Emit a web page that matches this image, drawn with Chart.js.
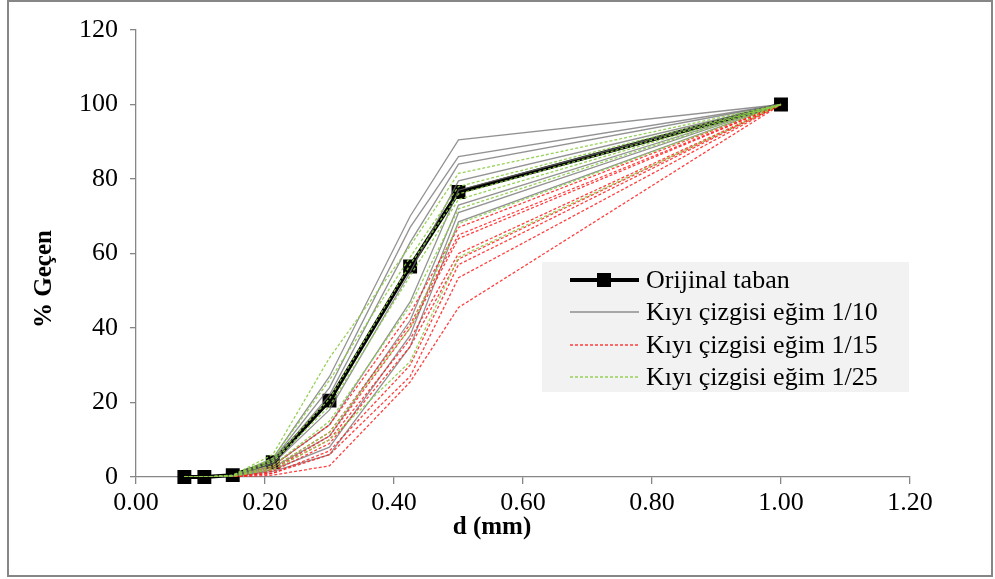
<!DOCTYPE html>
<html>
<head>
<meta charset="utf-8">
<script src="https://cdn.jsdelivr.net/npm/chart.js@4.4.0/dist/chart.umd.min.js"></script>
<style>
html,body{margin:0;padding:0;background:#fff;}
#wrap{width:995px;height:579px;position:relative;}
</style>
</head>
<body>
<div id="wrap"><canvas id="c" width="995" height="579"></canvas></div>
<script>
// Sieve sizes (mm)
const sizes = [0.075, 0.106, 0.15, 0.212, 0.3, 0.425, 0.5, 1.0];

// Original bed
const original = [0, 0, 0.5, 4, 20.5, 56.5, 76.5, 100];

// Shoreline slope 1/10 (grey)
const slope10 = [
  [0, 0, 0.3, 5.0, 27, 70, 90.5, 100],
  [0, 0, 0.3, 4.5, 24, 67, 86, 100],
  [0, 0, 0.2, 4.0, 22, 63, 84, 100],
  [0, 0, 0.2, 3.5, 18, 55, 79.5, 100],
  [0, 0, 0.2, 3.0, 14, 47, 77, 100],
  [0, 0, 0.1, 2.5, 11, 42, 73, 100],
  [0, 0, 0.1, 2.0, 8, 38, 71, 100],
  [0, 0, 0.1, 1.5, 6, 35, 68.5, 100]
];

// Shoreline slope 1/15 (red)
const slope15 = [
  [0, 0, 0.2, 3.0, 14, 44, 67, 100],
  [0, 0, 0.2, 2.5, 12, 41, 65, 100],
  [0, 0, 0.1, 2.0, 11, 40, 64, 100],
  [0, 0, 0.1, 2.0, 10, 37, 60, 100],
  [0, 0, 0.1, 1.5, 9, 35, 58.5, 100],
  [0, 0, 0.1, 1.0, 7, 30, 57, 100],
  [0, 0, 0.1, 1.0, 6, 27, 53.5, 100],
  [0, 0, 0.0, 0.5, 3, 25.5, 45.5, 100]
];

// Shoreline slope 1/25 (green)
const slope25 = [
  [0, 0, 0.5, 6.0, 32, 62, 81.5, 100],
  [0, 0, 0.4, 5.0, 26, 59, 78, 100],
  [0, 0, 0.4, 4.5, 21, 57, 76, 100],
  [0, 0, 0.3, 4.0, 19, 54, 74.5, 100],
  [0, 0, 0.3, 3.0, 15, 46, 72, 100],
  [0, 0, 0.2, 2.5, 12, 40, 68, 100],
  [0, 0, 0.2, 2.0, 10, 31, 59, 100]
];

const legendLabels = ["Orijinal taban", "Kıyı çizgisi eğim 1/10", "Kıyı çizgisi eğim 1/15", "Kıyı çizgisi eğim 1/25"];
const xTitle = "d (mm)";
const yTitle = "% Geçen";

const FONT = "'Liberation Serif','Times New Roman',serif";
const toPts = arr => arr.map((v, i) => ({x: sizes[i], y: v}));

const datasets = [];
datasets.push({
  label: legendLabels[0], data: toPts(original), showLine: true,
  borderColor: '#000', backgroundColor: '#000', borderWidth: 4,
  pointStyle: 'rect', pointRadius: 7, pointHoverRadius: 7, order: 3, clip: false
});
slope10.forEach(s => datasets.push({
  label: legendLabels[1], data: toPts(s), showLine: true,
  borderColor: 'rgba(110,110,110,0.75)', borderWidth: 1.3, pointRadius: 0, order: 2
}));
slope15.forEach(s => datasets.push({
  label: legendLabels[2], data: toPts(s), showLine: true,
  borderColor: 'rgba(255,30,30,0.85)', borderWidth: 1.3, borderDash: [3, 2], pointRadius: 0, order: 1
}));
slope25.forEach(s => datasets.push({
  label: legendLabels[3], data: toPts(s), showLine: true,
  borderColor: 'rgba(140,205,70,0.9)', borderWidth: 1.3, borderDash: [3, 2], pointRadius: 0, order: 0
}));

const decor = {
  id: 'decor',
  beforeDraw(chart) {
    const ctx = chart.ctx;
    ctx.save();
    ctx.fillStyle = '#fff';
    ctx.fillRect(0, 0, chart.width, chart.height);
    ctx.restore();
  },
  afterDraw(chart) {
    const ctx = chart.ctx;
    const ca = chart.chartArea;
    ctx.save();
    // outer frame
    ctx.strokeStyle = '#868686';
    ctx.lineWidth = 2;
    ctx.strokeRect(8, 1, 984, 575);
    // axis titles
    ctx.fillStyle = '#000';
    ctx.font = "bold 25px " + FONT;
    ctx.textAlign = 'center';
    ctx.textBaseline = 'middle';
    ctx.fillText(xTitle, ca.left + 0.46 * (ca.right - ca.left), 528);
    ctx.translate(45, 279);
    ctx.rotate(-Math.PI / 2);
    ctx.fillText(yTitle, 0, 0);
    ctx.restore();

    // legend
    ctx.save();
    const bx = 542, by = 262, bw = 367, bh = 130;
    ctx.fillStyle = '#f2f2f2';
    ctx.fillRect(bx, by, bw, bh);
    const rows = [280, 312, 345, 377];
    const styles = [datasets[0], datasets[1], datasets[1 + slope10.length], datasets[1 + slope10.length + slope15.length]];
    ctx.font = "26px " + FONT;
    ctx.textBaseline = 'middle';
    ctx.textAlign = 'left';
    rows.forEach((ry, i) => {
      const d = styles[i];
      ctx.save();
      ctx.strokeStyle = d.borderColor;
      ctx.lineWidth = i === 0 ? 4 : 1.3;
      ctx.setLineDash(d.borderDash || []);
      ctx.beginPath();
      ctx.moveTo(570, ry);
      ctx.lineTo(639, ry);
      ctx.stroke();
      if (i === 0) {
        ctx.fillStyle = '#000';
        ctx.fillRect(597, ry - 7, 14, 14);
      }
      ctx.restore();
      ctx.fillStyle = '#000';
      ctx.fillText(legendLabels[i], 646, ry + 1);
    });
    ctx.restore();
  }
};

new Chart(document.getElementById('c'), {
  type: 'scatter',
  data: {datasets},
  options: {
    responsive: false,
    animation: false,
    events: [],
    layout: {padding: {left: 0, top: 30, right: 85, bottom: 0}},
    plugins: {legend: {display: false}, tooltip: {enabled: false}, title: {display: false}},
    elements: {line: {tension: 0}},
    scales: {
      x: {
        type: 'linear', min: 0, max: 1.2,
        ticks: {stepSize: 0.2, color: '#000', font: {family: FONT, size: 26}, padding: 4,
          callback: v => v.toFixed(2), maxRotation: 0, autoSkip: false},
        grid: {drawOnChartArea: false, drawTicks: true, tickLength: 7, color: '#868686', lineWidth: 1.3},
        border: {color: '#868686', width: 1.3},
        afterFit: s => { s.height = 102; }
      },
      y: {
        type: 'linear', min: 0, max: 120,
        ticks: {stepSize: 20, color: '#000', font: {family: FONT, size: 26}, padding: 12,
          callback: v => String(v)},
        grid: {drawOnChartArea: false, drawTicks: true, tickLength: 6, color: '#868686', lineWidth: 1.3},
        border: {color: '#868686', width: 1.3},
        afterFit: s => { s.width = 136; }
      }
    }
  },
  plugins: [decor]
});
</script>
</body>
</html>
